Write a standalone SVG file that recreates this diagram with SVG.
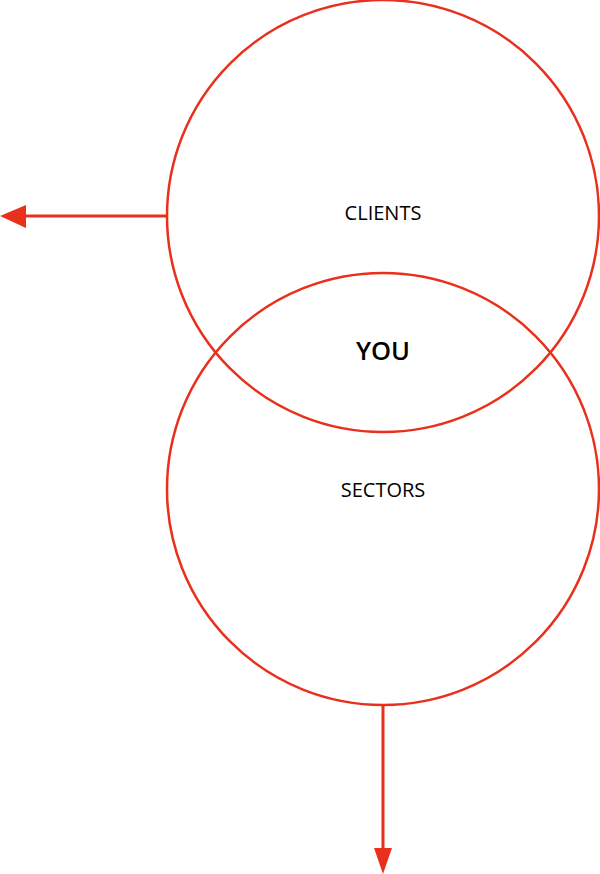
<svg xmlns="http://www.w3.org/2000/svg" width="600" height="874" viewBox="0 0 600 874">
<style>
.c{fill:none;stroke:#e8301c;stroke-width:2.5}
.l{stroke:#e8301c;stroke-width:3;fill:none}
.h{fill:#e8301c}
.t{font-family:"Open Sans","Noto Sans",sans-serif;font-size:20px;fill:#000;text-anchor:middle}
.b{font-family:"Open Sans","Noto Sans",sans-serif;font-size:25.5px;font-weight:600;fill:#000;text-anchor:middle}
</style>
<rect width="600" height="874" fill="#fff"/>
<g id="connectors">
<line class="l" x1="167" y1="216" x2="24" y2="216"/>
<polygon class="h" points="0,216 26,205 26,228"/>
<line class="l" x1="383" y1="705" x2="383" y2="850"/>
<polygon class="h" points="383,874 374,848 392,848"/>
</g>
<g id="clients">
<circle class="c" cx="383" cy="216" r="216"/>
<text class="t" x="383" y="220">CLIENTS</text>
</g>
<g id="sectors">
<circle class="c" cx="383" cy="489" r="216"/>
<text class="t" x="383" y="497">SECTORS</text>
</g>
<g id="you">
<text class="b" x="383" y="360">YOU</text>
</g>
</svg>
